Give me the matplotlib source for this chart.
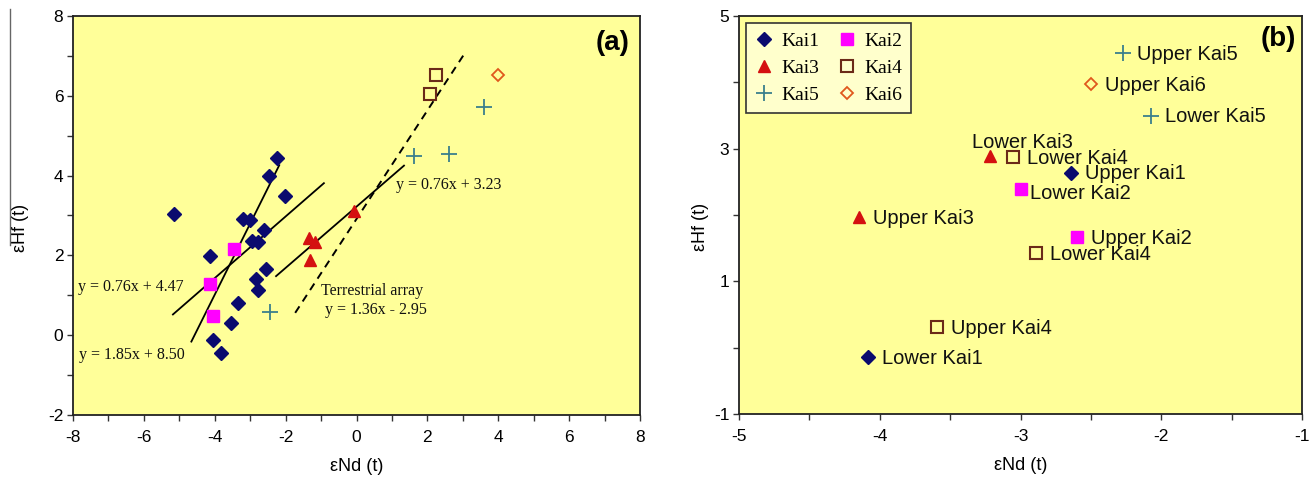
import numpy as np
import matplotlib
matplotlib.use("Agg")
import matplotlib.pyplot as plt
from matplotlib.lines import Line2D
from matplotlib.ticker import MultipleLocator

plt.rcParams["axes.unicode_minus"] = False

# ---- data, panel (a) ----
kai1_x = [-5.15, -4.13, -2.23, -2.47, -2.02, -3.20, -3.00, -2.60, -2.95, -2.78,
          -2.55, -2.83, -2.78, -3.35, -3.55, -4.06, -3.82]
kai1_y = [3.05, 1.98, 4.43, 3.98, 3.49, 2.92, 2.88, 2.64, 2.37, 2.34,
          1.67, 1.40, 1.13, 0.81, 0.31, -0.13, -0.44]
kai2_x = [-3.45, -4.14, -4.06]
kai2_y = [2.17, 1.28, 0.49]
kai3_x = [-1.33, -1.18, -1.30, -0.08]
kai3_y = [2.43, 2.33, 1.88, 3.12]
kai4_x = [2.25, 2.08]
kai4_y = [6.53, 6.05]
kai5_x = [3.60, 1.63, 2.60, -2.45]
kai5_y = [5.73, 4.48, 4.55, 0.57]
kai6_x = [4.00]
kai6_y = [6.51]

# fitted lines (end points as drawn)
fit_steep_x = [-4.66, -2.18]
fit_steep_y = [-0.16, 4.26]
fit_low_x = [-5.18, -0.92]
fit_low_y = [0.52, 3.81]
fit_kai3_x = [-2.27, 1.34]
fit_kai3_y = [1.48, 4.25]
terr_x = [-1.73, 3.05]
terr_y = [0.56, 7.06]

# ---- data, panel (b) ----
b_names = ["Upper Kai5", "Upper Kai6", "Lower Kai5", "Lower Kai3", "Lower Kai4",
           "Upper Kai1", "Lower Kai2", "Upper Kai3", "Upper Kai2", "Lower Kai4",
           "Upper Kai4", "Lower Kai1"]
b_group = ["Kai5", "Kai6", "Kai5", "Kai3", "Kai4",
           "Kai1", "Kai2", "Kai3", "Kai2", "Kai4",
           "Kai4", "Kai1"]
b_x = [-2.27, -2.50, -2.07, -3.22, -3.05, -2.64, -3.00, -4.15, -2.60, -2.89, -3.59, -4.08]
b_y = [4.44, 3.97, 3.50, 2.89, 2.87, 2.64, 2.39, 1.97, 1.67, 1.42, 0.31, -0.14]
b_yticks = [-1, 1, 3, 5]

# marker styles
styles = {
    "Kai1": dict(marker="D", ms=7, mfc="#0a0a6e", mec="#0a0a6e", mew=1),
    "Kai2": dict(marker="s", ms=8, mfc="#ff00ff", mec="#ff00ff", mew=1),
    "Kai3": dict(marker="^", ms=9, mfc="#d41010", mec="#d41010", mew=1),
    "Kai4": dict(marker="s", ms=8, mfc="none", mec="#6b2a18", mew=1.5),
    "Kai5": dict(marker="+", ms=11, mfc="none", mec="#3a7f8c", mew=1.3),
    "Kai6": dict(marker="D", ms=6.5, mfc="none", mec="#e0581c", mew=1.3),
}

sans = "Liberation Sans"
serif = "Liberation Serif"
bg = "#ffff99"

fig = plt.figure(figsize=(13.09, 4.79), dpi=100)
fig.patch.set_facecolor("white")
ax1 = fig.add_axes([73 / 1309, 64 / 479, 567 / 1309, 399 / 479])
ax2 = fig.add_axes([739 / 1309, 65 / 479, 563 / 1309, 398 / 479])

def style_axes(ax):
    ax.set_facecolor(bg)
    for s in ax.spines.values():
        s.set_color("#222222")
        s.set_linewidth(1.3)
    ax.tick_params(which="both", direction="out", length=4, width=1, color="#333333",
                   top=False, right=False)
    ax.tick_params(axis="x", pad=7, labelsize=12.5)
    ax.tick_params(axis="y", pad=3, labelsize=12.5)
    for lab in ax.get_xticklabels() + ax.get_yticklabels():
        lab.set_fontfamily(sans)

# ---- panel (a) ----
ax = ax1
ax.set_xlim(-8, 8)
ax.set_ylim(-2, 8)
ax.xaxis.set_major_locator(MultipleLocator(2))
ax.xaxis.set_minor_locator(MultipleLocator(1))
ax.yaxis.set_major_locator(MultipleLocator(2))
ax.yaxis.set_minor_locator(MultipleLocator(1))

ax.plot(fit_steep_x, fit_steep_y, color="black", lw=1.3, zorder=3)
ax.plot(fit_low_x, fit_low_y, color="black", lw=1.3, zorder=3)
ax.plot(fit_kai3_x, fit_kai3_y, color="black", lw=1.3, zorder=3)
ax.plot(terr_x, terr_y, color="black", lw=1.4, ls=(0, (4, 3)), zorder=3)

ax.plot(kai1_x, kai1_y, ls="none", zorder=4, **styles["Kai1"])
ax.plot(kai2_x, kai2_y, ls="none", zorder=4, **styles["Kai2"])
ax.plot(kai3_x, kai3_y, ls="none", zorder=4, **styles["Kai3"])
ax.plot(kai4_x, kai4_y, ls="none", zorder=4, **styles["Kai4"])
ax.plot(kai5_x, kai5_y, ls="none", zorder=4, **styles["Kai5"])
ax.plot(kai6_x, kai6_y, ls="none", zorder=4, **styles["Kai6"])

eq_kw = dict(fontfamily=serif, fontsize=11.5, va="center", ha="left", color="#111111", zorder=5)
ax.text(1.11, 3.77, "y = 0.76x + 3.23", **eq_kw)
ax.text(-7.87, 1.22, "y = 0.76x + 4.47", **eq_kw)
ax.text(-7.82, -0.49, "y = 1.85x + 8.50", **eq_kw)
ax.text(-1.01, 1.11, "Terrestrial array", **eq_kw)
ax.text(-0.88, 0.64, "y = 1.36x - 2.95", **eq_kw)
ax.text(0.982, 0.932, "(a)", transform=ax.transAxes, ha="right", va="center",
        fontfamily=sans, fontsize=20, fontweight="bold")

ax.set_xlabel("εNd (t)", fontfamily=sans, fontsize=13, va="top")
ax.set_ylabel("εHf (t)", fontfamily=sans, fontsize=13, va="center")
ax.xaxis.set_label_coords(0.5, -0.108)
ax.yaxis.set_label_coords(-0.093, 0.47)
style_axes(ax)

# ---- panel (b) ----
ax = ax2
ax.set_xlim(-5, -1)
ax.set_ylim(-1, 5)
ax.xaxis.set_major_locator(MultipleLocator(1))
ax.xaxis.set_minor_locator(MultipleLocator(0.5))
ax.set_yticks(b_yticks)
ax.yaxis.set_minor_locator(MultipleLocator(1))

# label offsets in points (dx, dy)
offsets = [(10, -1)] * len(b_names)
offsets[3] = (-12.5, 9.5)
offsets[6] = (7, -3)

for name, g, x, y, off in zip(b_names, b_group, b_x, b_y, offsets):
    ax.plot([x], [y], ls="none", zorder=4, **styles[g])
    ax.annotate(name, (x, y), xytext=off, textcoords="offset points",
                ha="left", va="center", fontfamily=sans, fontsize=14.5,
                color="#111111", zorder=5)

handles = []
for g in ["Kai1", "Kai3", "Kai5", "Kai2", "Kai4", "Kai6"]:
    handles.append(Line2D([], [], ls="none", label=g, **styles[g]))
leg = ax.legend(handles=handles, ncol=2, loc="upper left", bbox_to_anchor=(0.012, 0.982),
                borderaxespad=0, fancybox=False, framealpha=1, facecolor="#ffffcc",
                edgecolor="#333333", prop=dict(family=serif, size=14),
                handlelength=1.0, handletextpad=0.4, columnspacing=0.9,
                labelspacing=0.5, borderpad=0.45, numpoints=1)
leg.get_frame().set_linewidth(1.2)

ax.text(0.989, 0.942, "(b)", transform=ax.transAxes, ha="right", va="center",
        fontfamily=sans, fontsize=20, fontweight="bold")

ax.set_xlabel("εNd (t)", fontfamily=sans, fontsize=13, va="top")
ax.set_ylabel("εHf (t)", fontfamily=sans, fontsize=13, va="center")
ax.xaxis.set_label_coords(0.5, -0.108)
ax.yaxis.set_label_coords(-0.069, 0.47)
style_axes(ax)

# thin rule at the far left of the scan
fig.add_artist(Line2D([10 / 1309, 10 / 1309], [1 - 9 / 479, 1 - 245 / 479],
                      transform=fig.transFigure, color="#666666", lw=1))

fig.savefig("out.png", dpi=100, facecolor="white")
